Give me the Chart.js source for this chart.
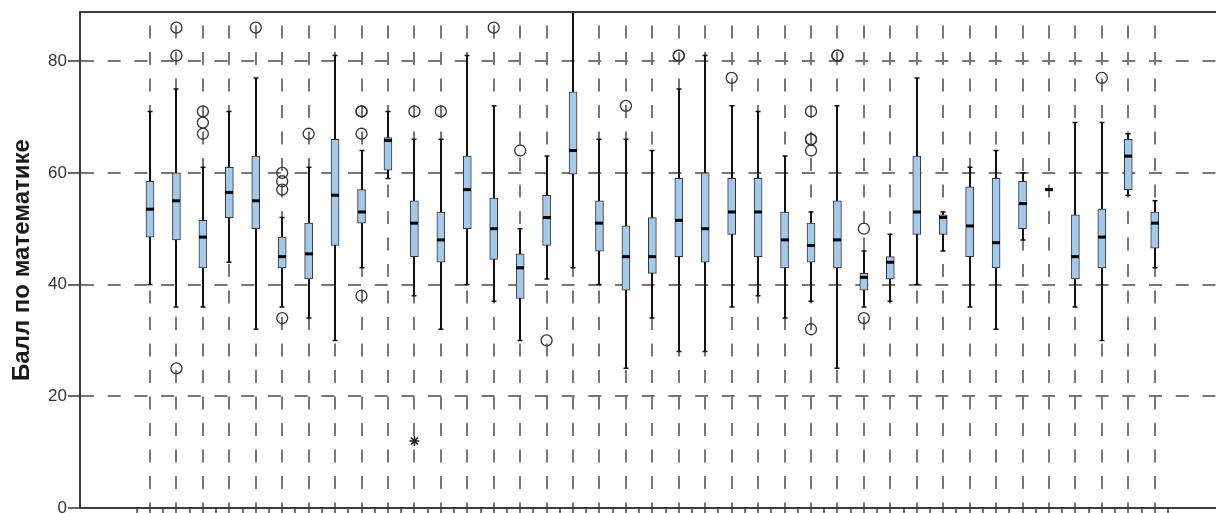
<!DOCTYPE html>
<html lang="ru">
<head>
    <meta charset="UTF-8">
    <title>Балл по математике</title>
    <script src="https://cdn.jsdelivr.net/npm/chart.js"></script>
    <style>
        body { margin: 0; background: #fff; overflow: hidden; }
        #wrap { width: 1216px; height: 513px; position: relative; }
    </style>
</head>
<body>
<div id="wrap"><canvas id="chart"></canvas></div>

<script>
// groups along the x axis (labels fall below the visible area)
const categories = ['1','2','3','4','5','6','7','8','9','10','11','12','13','14','15','16','17','18','19','20',
                    '21','22','23','24','25','26','27','28','29','30','31','32','33','34','35','36','37','38','39'];

const whiskerLow  = [40, 36, 36, 44, 32, 36, 34, 30, 43, 59, 38, 32, 40, 37, 30, 41, 43, 40, 25, 34,
                     28, 28, 36, 38, 34, 37, 25, 36, 37, 40, 46, 36, 32, 48, 57, 36, 30, 56, 43];
const q1          = [48.5, 48, 43, 52, 50, 43, 41, 47, 51, 60.5, 45, 44, 50, 44.5, 37.5, 47, 59.75, 46, 39, 42,
                     45, 44, 49, 45, 43, 44, 43, 39, 41, 49, 49, 45, 43, 50, 57, 41, 43, 57, 46.5];
const median      = [53.5, 55, 48.5, 56.5, 55, 45, 45.5, 56, 53, 65.8, 51, 48, 57, 50, 43, 52, 64, 51, 45, 45,
                     51.5, 50, 53, 53, 48, 47, 48, 41.3, 44, 53, 52, 50.5, 47.5, 54.5, 57, 45, 48.5, 63, 51];
const q3          = [58.5, 60, 51.5, 61, 63, 48.5, 51, 66, 57, 66.3, 55, 53, 63, 55.5, 45.5, 56, 74.5, 55, 50.5, 52,
                     59, 60, 59, 59, 53, 51, 55, 42, 45, 63, 52.5, 57.5, 59, 58.5, 57, 52.5, 53.5, 66, 53];
const whiskerHigh = [71, 75, 61, 71, 77, 52, 61, 81, 64, 71, 66, 66, 81, 72, 50, 63, 89, 66, 66, 64,
                     75, 81, 72, 71, 63, 53, 72, 46, 49, 77, 53, 61, 64, 60, 57, 69, 69, 67, 55];

// outliers (o) and extreme values (*): group number + score
const outlierGroup = [2, 2, 2, 3, 3, 3, 5, 6, 6, 6, 6, 7, 9, 9, 9, 9, 11, 12, 14, 15, 16, 19, 21, 21, 23,
                      26, 26, 26, 26, 26, 27, 27, 28, 28, 37];
const outlierValue = [86, 81, 25, 71, 69, 67, 86, 60, 58.5, 57, 34, 67, 71, 71, 67, 38, 71, 71, 86, 64, 30, 72, 81, 81, 77,
                      71, 66, 66, 64, 32, 81, 81, 50, 34, 77];
const extremeGroup = [11];
const extremeValue = [12];

const yTicks = [0, 20, 40, 60, 80];
const yMax = 88.8;

const step = 26.44;                 // px per group
const xMin = 1 - 70 / step;
const xMax = xMin + 1136 / step;

const gridGray = '#777';
const axisGray = '#3a3a3a';

// whiskers behind the boxes, medians on top
const boxExtras = {
    id: 'boxExtras',
    beforeDatasetsDraw(chart) {
        const { ctx, chartArea: a, scales: { x, y } } = chart;
        ctx.save();
        ctx.beginPath();
        ctx.rect(a.left, a.top, a.right - a.left, a.bottom - a.top);
        ctx.clip();
        ctx.strokeStyle = '#111';
        ctx.lineWidth = 2;
        categories.forEach((c, i) => {
            const px = Math.round(x.getPixelForValue(i + 1));
            const lo = y.getPixelForValue(whiskerLow[i]);
            const hi = y.getPixelForValue(whiskerHigh[i]);
            ctx.beginPath();
            ctx.moveTo(px, lo); ctx.lineTo(px, hi);
            ctx.stroke();
            ctx.lineWidth = 1.5;
            ctx.beginPath();
            ctx.moveTo(px - 2.5, lo); ctx.lineTo(px + 2.5, lo);
            ctx.moveTo(px - 2.5, hi); ctx.lineTo(px + 2.5, hi);
            ctx.stroke();
            ctx.lineWidth = 2;
        });
        ctx.restore();
    },
    afterDatasetsDraw(chart) {
        const { ctx, chartArea: a, scales: { x, y } } = chart;
        ctx.save();
        ctx.fillStyle = '#000';
        categories.forEach((c, i) => {
            const px = Math.round(x.getPixelForValue(i + 1));
            const py = y.getPixelForValue(median[i]);
            ctx.fillRect(px - 4, py - 1.5, 8, 3);
        });
        // frame line on top of the plot
        ctx.strokeStyle = axisGray;
        ctx.lineWidth = 2;
        ctx.beginPath();
        ctx.moveTo(a.left, a.top);
        ctx.lineTo(a.right, a.top);
        ctx.stroke();
        ctx.restore();
    }
};

const xTickValues = [];
categories.forEach((c, i) => { xTickValues.push(i + 0.5, i + 1); });
xTickValues.push(categories.length + 0.5);

new Chart(document.getElementById('chart'), {
    type: 'bar',
    data: {
        datasets: [
            {
                type: 'bar',
                data: categories.map((c, i) => ({ x: i + 1, y: [q1[i], q3[i]] })),
                backgroundColor: '#a5c9ea',
                borderColor: '#333',
                borderWidth: 1,
                borderSkipped: false,
                barThickness: 8,
                grouped: false
            },
            {
                type: 'scatter',
                data: outlierGroup.map((g, i) => ({ x: g, y: outlierValue[i] })),
                pointStyle: 'circle',
                pointRadius: 5.5,
                pointBorderWidth: 1.3,
                pointBorderColor: '#333',
                pointBackgroundColor: 'rgba(0,0,0,0)'
            },
            {
                type: 'scatter',
                data: extremeGroup.map((g, i) => ({ x: g, y: extremeValue[i] })),
                pointStyle: 'star',
                pointRadius: 5,
                pointBorderWidth: 1.5,
                pointBorderColor: '#222'
            }
        ]
    },
    options: {
        responsive: true,
        maintainAspectRatio: false,
        animation: false,
        layout: { autoPadding: false, padding: { top: 12, right: 0, bottom: 0, left: 0 } },
        plugins: { legend: { display: false }, tooltip: { enabled: false } },
        scales: {
            x: {
                type: 'linear',
                min: xMin,
                max: xMax,
                offset: false,
                afterBuildTicks: s => { s.ticks = xTickValues.map(v => ({ value: v })); },
                ticks: { display: false },
                grid: {
                    offset: false,
                    color: c => (c.tick && Number.isInteger(c.tick.value)) ? gridGray : 'rgba(0,0,0,0)',
                    lineWidth: 2,
                    tickColor: '#444',
                    tickWidth: 1.5,
                    tickLength: 5
                },
                border: { display: true, color: axisGray, width: 2, dash: [13, 13.5], dashOffset: 13 }
            },
            y: {
                min: 0,
                max: yMax,
                afterBuildTicks: s => { s.ticks = yTicks.map(v => ({ value: v })); },
                afterFit: s => { s.width = 80; s.paddingTop = 0; s.paddingBottom = 0; },
                ticks: {
                    padding: 1,
                    color: '#333',
                    font: { family: 'Liberation Sans', size: 17 }
                },
                grid: {
                    color: gridGray,
                    lineWidth: 2,
                    tickColor: '#666',
                    tickWidth: 2,
                    tickLength: 12
                },
                border: { display: true, color: axisGray, width: 2, dash: [13, 13.7], dashOffset: 0 },
                title: {
                    display: true,
                    text: 'Балл по математике',
                    color: '#1a1a1a',
                    padding: { top: 8, bottom: 0 },
                    font: { family: 'Liberation Sans', size: 24, weight: 'bold' }
                }
            }
        }
    },
    plugins: [boxExtras]
});
</script>
</body>
</html>
